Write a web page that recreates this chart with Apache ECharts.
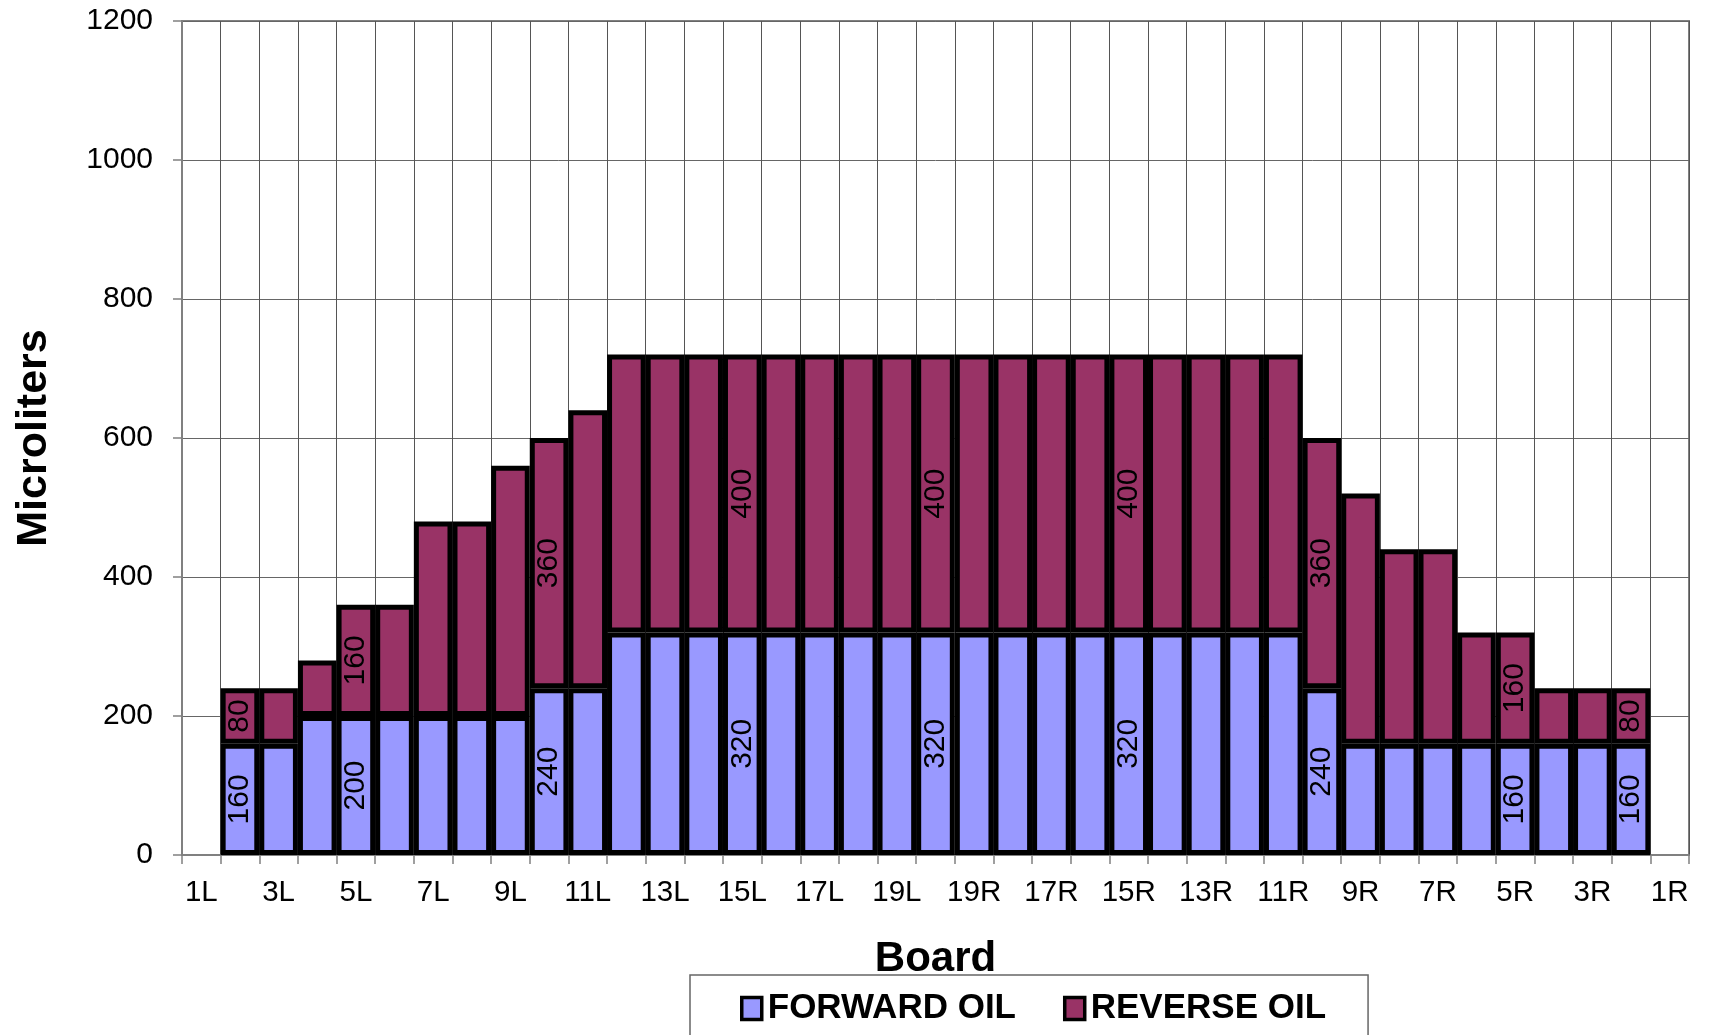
<!DOCTYPE html>
<html><head><meta charset="utf-8">
<script src="https://cdn.jsdelivr.net/npm/echarts/dist/echarts.min.js"></script>
<style>html,body{margin:0;padding:0;background:#fff}#c{width:1711px;height:1035px}</style>
</head><body><div id="c"></div>
<script>
// Boards across the lane (39 boards)
const boards = ['1L','2L','3L','4L','5L','6L','7L','8L','9L','10L','11L','12L','13L','14L','15L','16L','17L','18L','19L','20',
                '19R','18R','17R','16R','15R','14R','13R','12R','11R','10R','9R','8R','7R','6R','5R','4R','3R','2R','1R'];
const forwardOil = [null,160,160,200,200,200,200,200,200,240,240,
                    320,320,320,320,320,320,320,320,320,320,320,320,320,320,320,320,320,320,
                    240,160,160,160,160,160,160,160,160,null];
const reverseOil = [null,80,80,80,160,160,280,280,360,360,400,
                    400,400,400,400,400,400,400,400,400,400,400,400,400,400,400,400,400,400,
                    360,360,280,280,160,160,80,80,80,null];
const labeledBoards = ['2L','5L','10L','15L','20','15R','10R','5R','2R'];
const yMin = 0, yMax = 1200, yStep = 200;

const FONT = '"Liberation Sans", Arial, sans-serif';
function mk(vals){
  return vals.map((v,i)=>({value: v, label:{show: v!=null && labeledBoards.includes(boards[i])}}));
}
const chart = echarts.init(document.getElementById('c'), null, {renderer:'canvas'});
chart.setOption({
  animation:false,
  backgroundColor:'#fff',
  textStyle:{fontFamily:FONT},
  grid:{left:182, top:21, width:1507, height:834, show:true, borderColor:'#808080', borderWidth:2, backgroundColor:'transparent', containLabel:false, outerBoundsMode:'none'},
  legend:{
    left:690, top:975,
    padding:[16,42,60,50],
    borderColor:'#666', borderWidth:1.5,
    icon:'rect', itemWidth:20, itemHeight:22, itemGap:47,
    itemStyle:{borderColor:'#000', borderWidth:3.5},
    textStyle:{fontFamily:FONT, fontWeight:'bold', fontSize:35, color:'#000', padding:[0,0,0,1]},
    data:['FORWARD OIL','REVERSE OIL']
  },
  xAxis:{
    type:'category', data:boards, boundaryGap:true,
    name:'Board', nameLocation:'middle', nameGap:83, nameMoveOverlap:false,
    nameTextStyle:{fontFamily:FONT, fontWeight:'bold', fontSize:42, color:'#000'},
    axisLine:{show:true, lineStyle:{color:'#808080', width:2}},
    axisTick:{show:true, interval:0, length:9, inside:false, lineStyle:{color:'#808080', width:1.5}},
    axisLabel:{interval:1, margin:23, fontSize:29.5, color:'#000', fontFamily:FONT, hideOverlap:false},
    splitLine:{show:true, interval:0, lineStyle:{color:'#555', width:1}}
  },
  yAxis:{
    type:'value', min:yMin, max:yMax, interval:yStep,
    name:'Microliters', nameLocation:'middle', nameRotate:90, nameGap:126, nameMoveOverlap:false,
    nameTextStyle:{fontFamily:FONT, fontWeight:'bold', fontSize:43, color:'#000'},
    axisLine:{show:true, lineStyle:{color:'#808080', width:2}},
    axisTick:{show:true, length:9, inside:false, lineStyle:{color:'#808080', width:1.5}},
    axisLabel:{margin:29, fontSize:30, color:'#000', fontFamily:FONT, formatter:(v)=>String(v)},
    splitLine:{show:true, lineStyle:{color:'#666', width:1}}
  },
  series:[
    {name:'FORWARD OIL', type:'bar', stack:'oil', data:mk(forwardOil), barCategoryGap:'0%',
     itemStyle:{color:'#9999FF', borderColor:'#000', borderWidth:5},
     label:{position:'inside', rotate:90, fontSize:30, color:'#000', fontFamily:FONT}},
    {name:'REVERSE OIL', type:'bar', stack:'oil', data:mk(reverseOil), barCategoryGap:'0%',
     itemStyle:{color:'#993366', borderColor:'#000', borderWidth:5},
     label:{position:'inside', rotate:90, fontSize:30, color:'#000', fontFamily:FONT}}
  ]
});
</script>
</body></html>
